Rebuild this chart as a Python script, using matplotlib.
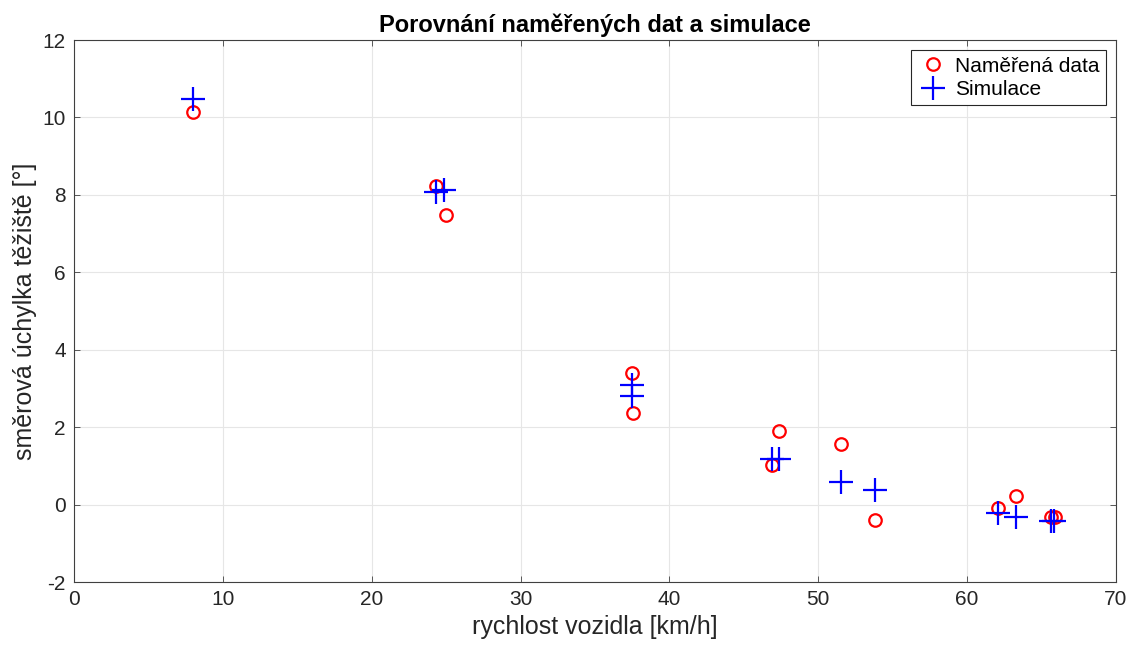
import matplotlib.pyplot as plt

plt.rcParams['font.family'] = ['Liberation Sans', 'DejaVu Sans']
plt.rcParams['axes.unicode_minus'] = False

# rychlost [km/h] a směrová úchylka [°]
v_mer = [7.97, 24.32, 24.97, 37.46, 37.53, 47.38, 46.87, 51.5, 53.8, 62.09, 63.28, 65.63, 65.9]
uh_mer = [10.15, 8.22, 7.48, 3.39, 2.36, 1.9, 1.02, 1.56, -0.4, -0.08, 0.22, -0.33, -0.31]

v_sim = [8.0, 24.3, 24.88, 37.48, 37.48, 46.89, 47.38, 51.5, 53.8, 62.09, 63.28, 65.63, 65.86]
uh_sim = [10.48, 8.08, 8.13, 3.1, 2.81, 1.17, 1.17, 0.58, 0.375, -0.23, -0.33, -0.42, -0.42]

fig = plt.figure(figsize=(11.33, 6.55), dpi=100)
ax = fig.add_axes([74 / 1133, 1 - 582 / 655, (1116 - 74) / 1133, (582 - 40) / 655])

ax.plot(v_mer, uh_mer, 'o', color='red', markerfacecolor='none', markersize=9,
        markeredgewidth=1.6, label='Naměřená data')
ax.plot(v_sim, uh_sim, '+', color='blue', markersize=17, markeredgewidth=1.6,
        label='Simulace')

ax.set_xlim(0, 70)
ax.set_ylim(-2, 12)
ax.set_xticks(range(0, 71, 10))
ax.set_yticks(range(-2, 13, 2))
ax.grid(True, color='#e6e6e6', linewidth=0.8)
ax.set_axisbelow(True)
ax.tick_params(direction='in', top=True, right=True, labelsize=15, length=4,
               width=0.6, pad=6, color='#404040', labelcolor='#262626')
for s in ax.spines.values():
    s.set_linewidth(0.8)
    s.set_color('#404040')

ax.set_xlabel('rychlost vozidla [km/h]', fontsize=18, color='#262626')
ax.set_ylabel('směrová úchylka těžiště [°]', fontsize=18, color='#262626')
ax.set_title('Porovnání naměřených dat a simulace', fontsize=17, fontweight='bold')

leg = ax.legend(loc='upper right', fontsize=15, fancybox=False, edgecolor='#262626',
                framealpha=1, borderaxespad=0.5, handletextpad=0.3,
                borderpad=0.3, labelspacing=0.2, handlelength=1.5)
leg.get_frame().set_linewidth(0.8)

fig.savefig('out.png', dpi=100)
